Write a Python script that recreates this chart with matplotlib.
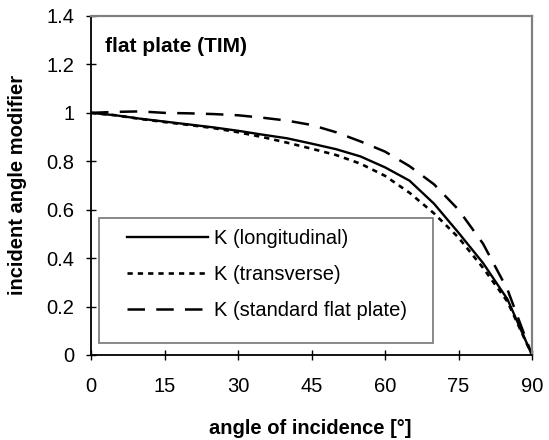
import matplotlib.pyplot as plt
from matplotlib.patches import Rectangle
from matplotlib.ticker import FuncFormatter

plt.rcParams['font.family'] = ['Liberation Sans', 'DejaVu Sans']

# Daten
angle = [0, 5, 10, 15, 20, 25, 30, 35, 40, 45, 50, 55, 60, 65, 70, 75, 80, 85, 90]
k_long = [1.0, 0.99, 0.976, 0.964, 0.952, 0.94, 0.926, 0.91, 0.895, 0.873, 0.85, 0.82, 0.775,
          0.72, 0.625, 0.505, 0.38, 0.23, 0.0]
k_trans = [1.0, 0.99, 0.975, 0.962, 0.95, 0.937, 0.92, 0.9, 0.877, 0.852, 0.826, 0.79, 0.74,
           0.67, 0.585, 0.485, 0.36, 0.22, 0.0]
k_std = [1.0, 1.004, 1.006, 1.0, 0.998, 0.995, 0.99, 0.98, 0.968, 0.95, 0.92, 0.882, 0.84,
         0.78, 0.705, 0.6, 0.46, 0.27, 0.0]
labels = ['K (longitudinal)', 'K (transverse)', 'K (standard flat plate)']

fig = plt.figure(figsize=(5.49, 4.4), dpi=100)
ax = fig.add_axes([91 / 549, 1 - 355 / 440, 441 / 549, 339 / 440])

l1, = ax.plot(angle, k_long, color='black', lw=1.7, solid_joinstyle='round')
l2, = ax.plot(angle, k_trans, color='black', lw=1.9, linestyle=(0, (2, 1.9)))
l3, = ax.plot(angle, k_std, color='black', lw=1.8, linestyle=(0, (7, 4.5)))

ax.set_xlim(0, 90)
ax.set_ylim(0, 1.4)
ax.set_xticks([0, 15, 30, 45, 60, 75, 90])
ax.set_yticks([0, 0.2, 0.4, 0.6, 0.8, 1.0, 1.2, 1.4])
ax.yaxis.set_major_formatter(FuncFormatter(lambda v, p: '%g' % round(v, 1)))
ax.tick_params(axis='both', direction='inout', length=7, width=1, labelsize=14.5)
ax.tick_params(axis='y', pad=8.5)
ax.tick_params(axis='x', pad=12)

ax.spines['left'].set_linewidth(1.3)
ax.spines['bottom'].set_linewidth(1.3)
ax.spines['top'].set_color('#808080')
ax.spines['right'].set_color('#808080')
ax.spines['top'].set_linewidth(1.6)
ax.spines['right'].set_linewidth(1.6)

ax.text(0.032, 0.909, 'flat plate (TIM)', transform=ax.transAxes, fontsize=15,
        fontweight='bold', va='center', ha='left')

fig.text(18 / 549, 1 - 185 / 440, 'incident angle modifier', rotation=90, fontsize=14.5,
         fontweight='bold', ha='center', va='center')
fig.text(310 / 549, 1 - 428 / 440, 'angle of incidence [°]', fontsize=14.5,
         fontweight='bold', ha='center', va='center')

# Legendenrahmen
ax.add_patch(Rectangle((0.018, 0.0354), 0.7575, 0.3686, transform=ax.transAxes,
                       fill=False, edgecolor='#808080', lw=1.3, zorder=3))
ax.legend([l1, l2, l3], labels, loc='upper left', bbox_to_anchor=(0.0816, 0.373),
          frameon=False, fontsize=14.5, borderpad=0, borderaxespad=0,
          handlelength=4.0, handletextpad=0.3, labelspacing=0.85)

fig.savefig('out.png', dpi=100)
